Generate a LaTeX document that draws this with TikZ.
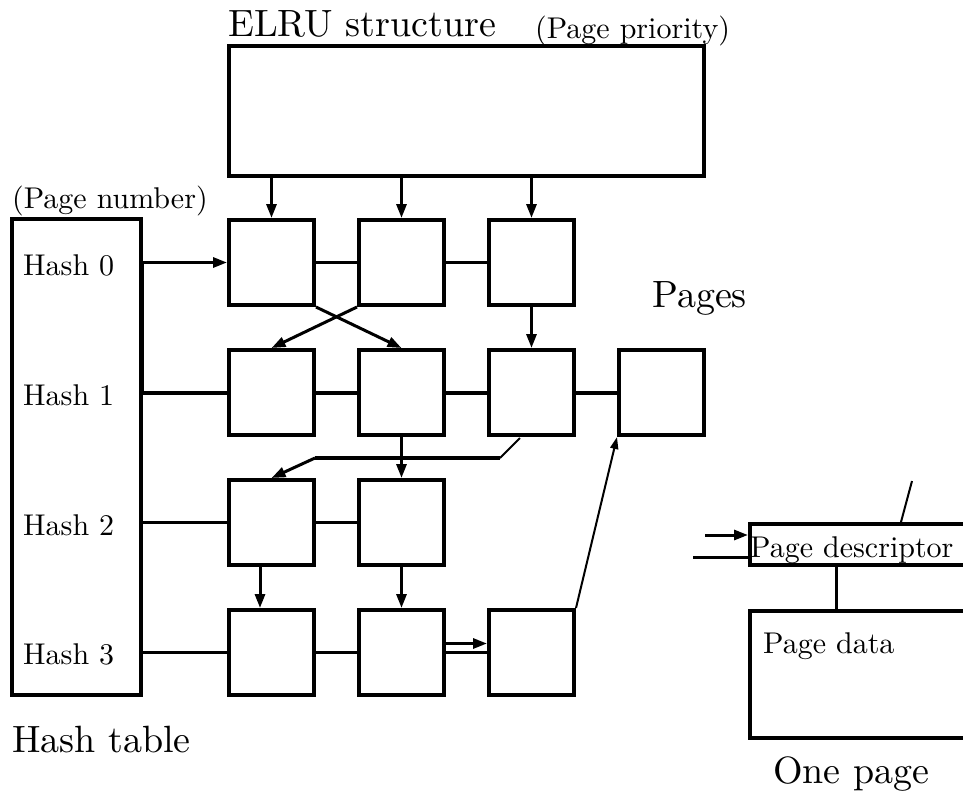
\documentclass[tikz,border=0pt]{standalone}
\usepackage{fontspec}
\setmainfont{lmroman10-regular}[Extension=.otf]
\usetikzlibrary{arrows.meta,calc}
\begin{document}
\begin{tikzpicture}[x=1pt,y=-1pt,
  pg/.style={draw,line width=4pt,minimum width=85pt,minimum height=85pt,inner sep=0pt},
  frame/.style={draw,line width=4pt,inner sep=0pt},
  lbl/.style={inner sep=0pt,anchor=base west,font=\fontsize{30}{36}\selectfont},
  biglbl/.style={inner sep=0pt,anchor=base west,font=\fontsize{38}{44}\selectfont},
  conn/.style={line width=3pt},
  thick conn/.style={line width=4pt},
  arr/.style={line width=3pt,-{Triangle[length=14pt,width=10pt]}},
  thinarr/.style={line width=2pt,-{Triangle[length=12pt,width=8pt]}}]
\useasboundingbox (0,0) rectangle (963,796);

% ELRU structure
\node[frame,minimum width=475pt,minimum height=130pt] (elru) at (466.5,111) {};
% hash table
\node[frame,minimum width=129pt,minimum height=476pt] (ht) at (76.5,457) {};

% pages
\node[pg] (b00) at (271.5,262.5) {};
\node[pg] (b01) at (401.5,262.5) {};
\node[pg] (b02) at (531.5,262.5) {};
\node[pg] (b10) at (271.5,392.5) {};
\node[pg] (b11) at (401.5,392.5) {};
\node[pg] (b12) at (531.5,392.5) {};
\node[pg] (b13) at (661.5,392.5) {};
\node[pg] (b20) at (271.5,522.5) {};
\node[pg] (b21) at (401.5,522.5) {};
\node[pg] (b30) at (271.5,652.5) {};
\node[pg] (b31) at (401.5,652.5) {};
\node[pg] (b32) at (531.5,652.5) {};

% one page
\node[frame,minimum width=260pt,minimum height=41pt] (desc) at (880,544.5) {};
\node[frame,minimum width=260pt,minimum height=127pt] (data) at (880,674.5) {};

% labels
\node[biglbl] (telru) at (228,36) {ELRU structure};
\node[lbl] (tprio) at (535,38) {(Page priority)};
\node[lbl] (tnum) at (12,208) {(Page number)};
\node[lbl] (th0) at (23,275) {Hash 0};
\node[lbl] (th1) at (23,405) {Hash 1};
\node[lbl] (th2) at (23,535) {Hash 2};
\node[lbl] (th3) at (23,664) {Hash 3};
\node[biglbl] (tht) at (12,752) {Hash table};
\node[biglbl] (tpages) at (652,307) {Pages};
\node[lbl] (tdesc) at (750,557) {Page descriptor};
\node[lbl] (tdata) at (763,653) {Page data};
\node[biglbl] (tone) at (773,783) {One page};

% ELRU -> pages
\draw[arr] (elru.south -| b00) -- (b00.north);
\draw[arr] (elru.south -| b01) -- (b01.north);
\draw[arr] (elru.south -| b02) -- (b02.north);

% row 0
\draw[arr] (ht.east |- b00) -- (b00.west);
\draw[conn] (b00.east) -- (b01.west);
\draw[conn] (b01.east) -- (b02.west);
\draw[line width=5pt] ($(ht.east |- b00)+(-1.5,-1.5)$) -- ($(ht.east |- b10)+(-1.5,1.5)$);

% cross arrows
\draw[arr] (b00.south east) -- (b11.north);
\draw[arr] (b01.south west) -- (b10.north);
\draw[arr] (b02.south) -- (b12.north);

% row 1
\draw[thick conn] (ht.east |- b10) -- (b10.west);
\draw[thick conn] (b10.east) -- (b11.west);
\draw[thick conn] (b11.east) -- (b12.west);
\draw[thick conn] (b12.east) -- (b13.west);

% row1 -> row2
\draw[arr] (b11.south) -- (b21.north);
\coordinate (k0) at (520,438);
\coordinate (k1) at (500,458);
\coordinate (k2) at (315,458);
\draw[line width=2pt] (k0) -- (k1);
\draw[thick conn] (k1) -- (k2);
\draw[arr] (k2) -- (b20.north);

% row 2
\draw[conn] (ht.east |- b20) -- (b20.west);
\draw[conn] (b20.east) -- (b21.west);
\draw[arr] ($(b20.south)+(-11.5,0)$) -- ($(b30.north)+(-11.5,0)$);
\draw[arr] (b21.south) -- (b31.north);

% row 3
\draw[conn] (ht.east |- b30) -- (b30.west);
\draw[conn] (b30.east) -- (b31.west);
\draw[arr] ($(b31.east)+(0,-9)$) -- ($(b32.west)+(0,-9)$);
\draw[conn] (b31.east) -- (b32.west);
\draw[thinarr] (b32.north east) -- (b13.south west);

% one page connectors
\coordinate (dc) at (836,0);
\draw[conn] (desc.south -| dc) -- (data.north -| dc);
\coordinate (inA) at (705,535);
\coordinate (inB) at (693,557);
\coordinate (sl) at (912,481);
\coordinate (sle) at (901,0);
\draw[arr] (inA) -- (inA -| desc.west);
\draw[conn] (inB) -- (inB -| desc.west);
\draw[line width=2pt] (sl) -- (sle |- desc.north);
\end{tikzpicture}
\end{document}
